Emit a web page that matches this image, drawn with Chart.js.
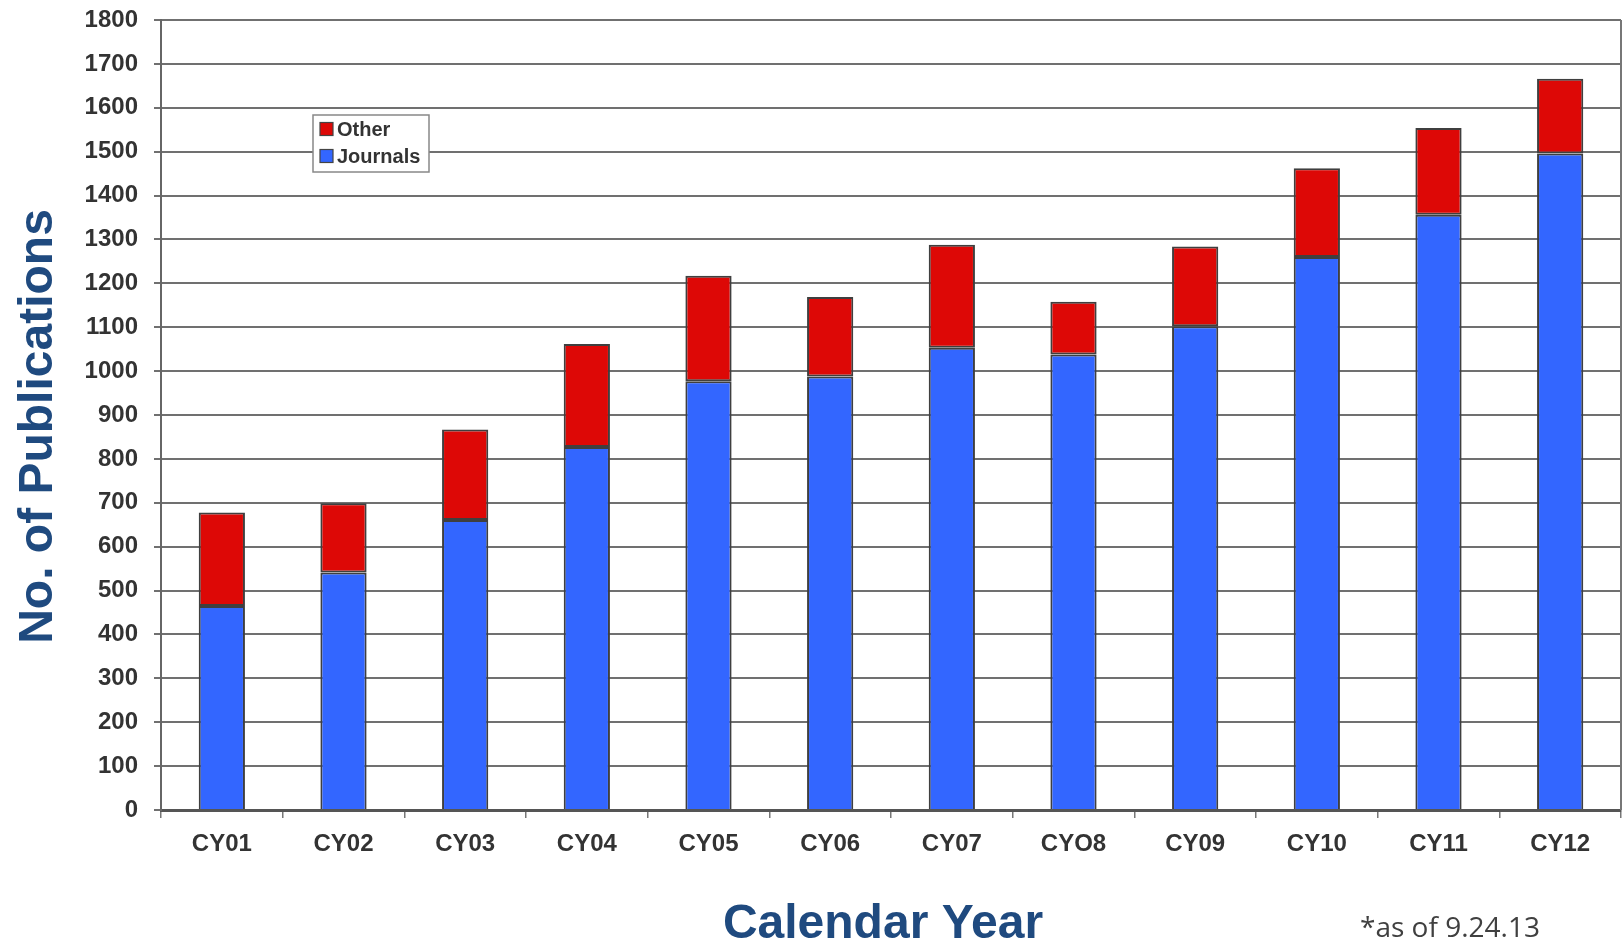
<!DOCTYPE html>
<html><head><meta charset="utf-8">
<script src="https://cdn.jsdelivr.net/npm/chart.js@4/dist/chart.umd.min.js"></script>
<style>html,body{margin:0;padding:0;background:#fff;overflow:hidden}#wrap{position:relative;width:1622px;height:942px}</style>
</head><body><div id="wrap"><canvas id="c" width="1622" height="942"></canvas></div>
<script>
const categories = ['CY01','CY02','CY03','CY04','CY05','CY06','CY07','CYO8','CY09','CY10','CY11','CY12'];
const journals = [465, 541, 661, 827, 977, 988, 1053, 1038, 1102, 1260, 1356, 1496];
const other = [213, 158, 206, 235, 240, 181, 235, 120, 182, 202, 198, 170];
const yMin = 0, yMax = 1800, yStep = 100;
const xTitle = 'Calendar Year';
const yTitle = 'No. of Publications';
const footnote = '*as of 9.24.13';

const FONT = '"Liberation Sans", Arial, sans-serif';
const TITLE_COLOR = '#1f4a7f';

const decorPlugin = {
  id: 'decor',
  afterDraw(chart) {
    const ctx = chart.ctx;
    const a = chart.chartArea;
    ctx.save();
    // right frame line of the plot area
    ctx.strokeStyle = '#777';
    ctx.lineWidth = 2;
    ctx.beginPath();
    ctx.moveTo(a.right, a.top);
    ctx.lineTo(a.right, a.bottom);
    ctx.stroke();
    // legend box
    const ds = chart.data.datasets.slice().reverse();
    const x0 = 313, y0 = 115, w = 116, h = 57;
    ctx.fillStyle = '#fff';
    ctx.fillRect(x0, y0, w, h);
    ctx.strokeStyle = '#888';
    ctx.lineWidth = 1.5;
    ctx.strokeRect(x0, y0, w, h);
    ctx.font = 'bold 20px ' + FONT;
    ctx.textBaseline = 'middle';
    ctx.textAlign = 'left';
    ds.forEach((d, i) => {
      const cy = y0 + 14 + i * 27;
      ctx.fillStyle = d.backgroundColor;
      ctx.fillRect(x0 + 7, cy - 6.5, 13, 13);
      ctx.strokeStyle = '#444';
      ctx.lineWidth = 1.2;
      ctx.strokeRect(x0 + 7, cy - 6.5, 13, 13);
      ctx.fillStyle = '#333';
      ctx.fillText(d.label, x0 + 24, cy + 1);
    });
    // axis titles
    ctx.fillStyle = TITLE_COLOR;
    ctx.font = 'bold 48px ' + FONT;
    ctx.textAlign = 'center';
    ctx.textBaseline = 'alphabetic';
    ctx.fillText(xTitle, 883, 938);
    ctx.save();
    ctx.translate(52, 426.5);
    ctx.rotate(-Math.PI / 2);
    ctx.fillText(yTitle, 0, 0);
    ctx.restore();
    // footnote
    ctx.font = '28px "Open Sans", sans-serif';
    ctx.textAlign = 'left';
    ctx.fillStyle = '#404040';
    ctx.fillText(footnote, 1360, 937);
    ctx.restore();
  }
};

new Chart(document.getElementById('c').getContext('2d'), {
  type: 'bar',
  data: {
    labels: categories,
    datasets: [
      { label: 'Journals', data: journals, backgroundColor: '#3366ff', borderColor: '#3f3f3f',
        borderWidth: {top: 2, left: 2, right: 2, bottom: 0}, borderSkipped: false,
        barPercentage: 0.38, categoryPercentage: 1 },
      { label: 'Other', data: other, backgroundColor: '#dd0806', borderColor: '#3f3f3f',
        borderWidth: 2, borderSkipped: false,
        barPercentage: 0.38, categoryPercentage: 1 }
    ]
  },
  options: {
    responsive: false,
    animation: false,
    devicePixelRatio: 1,
    layout: { padding: { top: 20, right: 1, bottom: 0, left: 0 } },
    plugins: { legend: { display: false }, tooltip: { enabled: false } },
    scales: {
      x: {
        stacked: true,
        grid: { offset: true, drawOnChartArea: false, drawTicks: true, tickLength: 8, color: '#777', lineWidth: 1.5 },
        border: { display: true, color: '#555', width: 3 },
        ticks: { font: { family: FONT, size: 24, weight: 'bold' }, color: '#333', padding: 12, maxRotation: 0, autoSkip: false },
        afterFit(s) { s.height = 132; s.paddingLeft = 0; s.paddingRight = 0; }
      },
      y: {
        stacked: true,
        min: yMin, max: yMax,
        ticks: { stepSize: yStep, font: { family: FONT, size: 24, weight: 'bold' }, color: '#333', padding: 16,
                 callback: v => String(v) },
        grid: { color: '#707070', lineWidth: 2, tickLength: 7 },
        border: { display: true, color: '#666', width: 2 },
        afterFit(s) { s.width = 161; s.paddingTop = 0; s.paddingBottom = 0; }
      }
    }
  },
  plugins: [decorPlugin]
});
</script>
</body></html>
